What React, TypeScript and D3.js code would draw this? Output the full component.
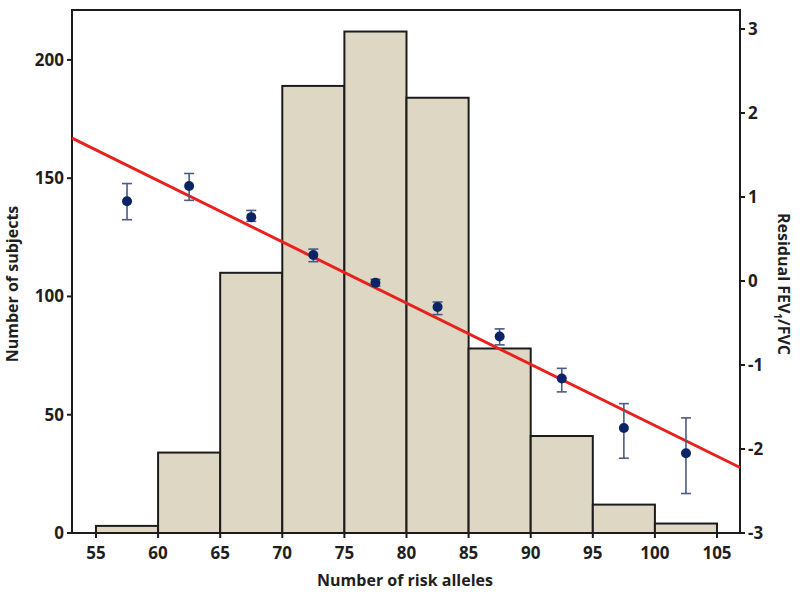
import React from "react";
import * as d3 from "d3";

const binStarts = [55, 60, 65, 70, 75, 80, 85, 90, 95, 100];
const binWidth = 5;
const counts = [3, 34, 110, 189, 212, 184, 78, 41, 12, 4];

const pointX = [57.5, 62.5, 67.5, 72.5, 77.5, 82.5, 87.5, 92.5, 97.5, 102.5];
const residualMean = [0.95, 1.13, 0.76, 0.31, -0.02, -0.31, -0.66, -1.16, -1.75, -2.05];
const residualLow = [0.73, 0.96, 0.71, 0.23, -0.06, -0.4, -0.76, -1.32, -2.11, -2.53];
const residualHigh = [1.16, 1.28, 0.84, 0.38, 0.02, -0.25, -0.57, -1.04, -1.46, -1.63];

const fitIntercept = 5.569;
const fitSlope = -0.0729;

const xTicks = [55, 60, 65, 70, 75, 80, 85, 90, 95, 100, 105];
const leftTicks = [0, 50, 100, 150, 200];
const rightTicks = [-3, -2, -1, 0, 1, 2, 3];

const W = 800;
const H = 598;
const L = 72;
const R = 740;
const T = 10;
const B = 533;

const FONT = "'Open Sans', 'DejaVu Sans', sans-serif";
const TEXT = "#1f1f1f";

export default function App() {
  const x = d3.scaleLinear().domain([53.07, 106.85]).range([L, R]);
  const yL = d3.scaleLinear().domain([0, 221.1]).range([B, T]);
  const yR = d3.scaleLinear().domain([-3, 3]).range([B, 29]);

  const line = d3
    .line<number>()
    .x((d) => x(d))
    .y((d) => yR(fitIntercept + fitSlope * d));
  const xd = x.domain();

  return (
    <svg
      width={W}
      height={H}
      style={{ position: "absolute", left: 0, top: 0, background: "#fff" }}
    >
      {/* bars */}
      {binStarts.map((s, i) => (
        <rect
          key={"b" + i}
          x={x(s)}
          y={yL(counts[i])}
          width={x(s + binWidth) - x(s)}
          height={yL(0) - yL(counts[i])}
          fill="#ddd7c3"
          stroke="#1c1c1c"
          strokeWidth={2}
        />
      ))}

      {/* frame */}
      <path
        d={`M${L},${B} L${L},${T} L${R},${T} L${R},${B} Z`}
        fill="none"
        stroke="#1c1c1c"
        strokeWidth={2}
      />

      {/* regression line */}
      <path d={line([xd[0], xd[1]]) || ""} stroke="#e8211f" strokeWidth={3} fill="none" />

      {/* error bars and points */}
      {pointX.map((px, i) => {
        const cx = x(px);
        return (
          <g key={"p" + i}>
            <line x1={cx} x2={cx} y1={yR(residualLow[i])} y2={yR(residualHigh[i])} stroke="#4b5b82" strokeWidth={1.6} />
            <line x1={cx - 5} x2={cx + 5} y1={yR(residualLow[i])} y2={yR(residualLow[i])} stroke="#4b5b82" strokeWidth={1.6} />
            <line x1={cx - 5} x2={cx + 5} y1={yR(residualHigh[i])} y2={yR(residualHigh[i])} stroke="#4b5b82" strokeWidth={1.6} />
            <circle cx={cx} cy={yR(residualMean[i])} r={5} fill="#0c2366" />
          </g>
        );
      })}

      {/* bottom axis ticks */}
      {xTicks.map((t) => (
        <g key={"x" + t}>
          <line x1={x(t)} x2={x(t)} y1={B} y2={B + 5} stroke="#1c1c1c" strokeWidth={2} />
          <text x={x(t)} y={B + 26} textAnchor="middle" fontFamily={FONT} fontWeight={700} fontSize={17} fill={TEXT}>
            {t}
          </text>
        </g>
      ))}

      {/* left axis ticks */}
      {leftTicks.map((t) => (
        <g key={"l" + t}>
          <line x1={L - 5} x2={L} y1={yL(t)} y2={yL(t)} stroke="#1c1c1c" strokeWidth={2} />
          <text x={L - 8} y={yL(t)} dy="0.35em" textAnchor="end" fontFamily={FONT} fontWeight={700} fontSize={17} fill={TEXT}>
            {t}
          </text>
        </g>
      ))}

      {/* right axis ticks */}
      {rightTicks.map((t) => (
        <g key={"r" + t}>
          <line x1={R} x2={R + 5} y1={yR(t)} y2={yR(t)} stroke="#1c1c1c" strokeWidth={2} />
          <text x={R + 8} y={yR(t)} dy="0.35em" textAnchor="start" fontFamily={FONT} fontWeight={700} fontSize={17} fill={TEXT}>
            {t}
          </text>
        </g>
      ))}

      {/* axis titles */}
      <text x={405} y={586} textAnchor="middle" fontFamily={FONT} fontWeight={700} fontSize={16} fill={TEXT}>
        Number of risk alleles
      </text>
      <text
        transform={`translate(18,284) rotate(-90)`}
        textAnchor="middle"
        fontFamily={FONT}
        fontWeight={700}
        fontSize={16}
        fill={TEXT}
      >
        Number of subjects
      </text>
      <text
        transform={`translate(778,284) rotate(90)`}
        textAnchor="middle"
        fontFamily={FONT}
        fontWeight={700}
        fontSize={16}
        fill={TEXT}
      >
        Residual FEV<tspan fontSize={10} dy={4}>1</tspan>
        <tspan dy={-4}>/FVC</tspan>
      </text>
    </svg>
  );
}
